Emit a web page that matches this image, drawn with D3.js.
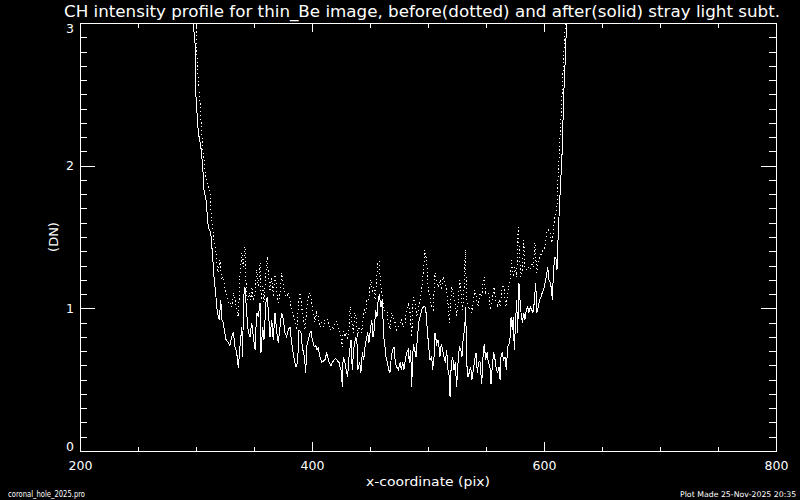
<!DOCTYPE html>
<html>
<head>
<meta charset="utf-8">
<script src="https://cdn.jsdelivr.net/npm/d3@7"></script>
<style>
  html, body { margin: 0; padding: 0; background: #000; overflow: hidden; }
  svg { display: block; }
  text { fill: #fff; font-family: "DejaVu Sans", sans-serif; }
</style>
</head>
<body>
<svg id="chart" width="800" height="500"></svg>
<script>
const titleText = 'CH intensity profile for thin_Be image, before(dotted) and after(solid) stray light subt.';
const xLabel = 'x-coordinate (pix)';
const yLabel = '(DN)';
const footLeft = 'coronal_hole_2025.pro';
const footRight = 'Plot Made 25-Nov-2025 20:35';

const xDomain = [200, 800];
const yDomain = [0, 3];
const xMajor = [200, 400, 600, 800];
const xMinor = [250, 300, 350, 450, 500, 550, 650, 700, 750];
const yMajor = [0, 1, 2, 3];
const yMinor = d3.range(1, 30).filter(i => i % 10 !== 0).map(i => i / 10);

// after stray light subtraction (solid)
const solid = [
  [294, 3.6], [297.4, 3.0], [299.1, 2.88], [300.0, 2.48], [302.0, 2.23], [304.1, 2.14],
  [305.8, 1.99], [306.9, 1.83], [308.6, 1.76], [310.6, 1.57], [312.7, 1.53], [314.4, 1.36],
  [315.5, 1.22], [316.4, 1.15], [317.2, 1.08], [318.4, 0.97], [320.1, 0.92], [321.3, 1.06],
  [322.4, 0.92], [323.5, 0.90], [324.7, 0.83], [325.9, 0.78], [327.8, 0.76], [329.3, 0.74],
  [330.8, 0.80], [332.2, 0.83], [333.6, 0.73], [335.1, 0.69], [336.5, 0.58], [337.9, 0.73],
  [339.4, 0.87], [340.3, 0.66], [340.8, 1.06], [342.2, 1.15], [343.7, 0.97], [345.1, 0.83],
  [346.6, 0.80], [348.0, 0.90], [349.4, 0.80], [350.9, 0.71], [352.3, 0.97], [353.7, 0.94],
  [355.2, 1.04], [356.0, 0.69], [357.5, 0.87], [358.6, 0.78], [360.3, 1.04], [361.5, 1.08],
  [362.7, 0.94], [363.8, 0.80], [365.3, 0.92], [366.6, 0.78], [368.1, 0.97], [369.6, 0.83],
  [371.0, 0.76], [372.4, 0.87], [373.9, 0.97], [375.3, 0.92], [376.7, 0.83], [378.2, 0.80],
  [379.5, 0.85], [381.0, 0.87], [381.9, 0.80], [383.0, 0.73], [384.7, 0.64], [386.2, 0.59],
  [387.6, 0.62], [388.8, 0.85], [390.5, 0.83], [391.6, 0.73], [393.4, 0.66], [394.6, 0.55],
  [395.4, 0.73], [396.8, 0.78], [398.3, 0.83], [399.1, 0.84], [400.3, 0.78], [402.0, 0.73],
  [403.2, 0.74], [404.3, 0.71], [405.4, 0.72], [406.9, 0.66], [408.4, 0.62], [409.7, 0.63],
  [411.2, 0.64], [412.7, 0.69], [413.5, 0.66], [414.7, 0.62], [416.4, 0.60], [417.5, 0.62],
  [419.2, 0.64], [420.4, 0.65], [422.1, 0.63], [423.3, 0.62], [424.1, 0.59], [425.6, 0.55],
  [426.0, 0.45], [426.9, 0.66], [428.4, 0.62], [429.8, 0.55], [430.7, 0.52], [431.9, 0.66],
  [433.6, 0.78], [434.7, 0.57], [435.9, 0.71], [437.7, 0.80], [438.8, 0.75], [439.4, 0.57],
  [441.1, 0.62], [442.2, 0.55], [443.4, 0.69], [444.6, 0.64], [445.7, 0.73], [446.8, 0.78],
  [448.0, 0.83], [449.1, 0.76], [450.3, 0.85], [451.5, 0.92], [452.6, 0.80], [453.7, 0.85],
  [454.9, 0.99], [456.0, 0.94], [457.2, 1.08], [458.0, 1.09], [459.5, 1.01], [460.6, 1.06],
  [461.8, 0.80], [462.9, 0.73], [463.8, 0.66], [464.9, 0.62], [466.1, 0.57], [467.2, 0.55],
  [468.4, 0.66], [469.6, 0.71], [470.7, 0.73], [471.8, 0.62], [473.0, 0.59], [474.4, 0.57],
  [475.9, 0.62], [477.0, 0.57], [478.2, 0.62], [479.3, 0.57], [480.4, 0.64], [481.6, 0.69],
  [483.0, 0.71], [483.9, 0.62], [485.1, 0.71], [485.9, 0.45], [487.3, 0.75], [488.5, 0.71],
  [489.7, 0.66], [490.7, 0.78], [492.0, 0.90], [493.1, 0.94], [494.6, 0.99], [496.0, 1.01],
  [497.4, 1.01], [498.3, 0.97], [499.4, 0.85], [500.6, 0.73], [501.7, 0.64], [503.2, 0.66],
  [504.0, 0.57], [505.2, 0.66], [506.0, 0.83], [507.5, 0.75], [508.9, 0.78], [510.3, 0.66],
  [511.4, 0.75], [512.6, 0.71], [513.8, 0.66], [514.9, 0.62], [516.1, 0.71], [517.2, 0.57],
  [518.4, 0.52], [519.0, 0.38], [520.1, 0.62], [521.3, 0.66], [522.4, 0.57], [523.5, 0.62],
  [524.7, 0.45], [525.9, 0.62], [527.0, 0.73], [528.2, 0.71], [529.3, 0.66], [530.4, 0.80],
  [531.6, 0.85], [532.5, 1.01], [533.3, 0.62], [534.5, 0.52], [535.6, 0.55], [536.8, 0.59],
  [537.9, 0.50], [539.1, 0.57], [540.3, 0.64], [541.4, 0.69], [542.5, 0.55], [543.7, 0.62],
  [544.8, 0.63], [546.3, 0.47], [547.4, 0.66], [548.5, 0.75], [549.7, 0.64], [550.9, 0.69],
  [552.0, 0.62], [553.4, 0.59], [554.3, 0.47], [555.4, 0.59], [556.6, 0.69], [557.8, 0.64],
  [558.9, 0.57], [560.1, 0.55], [561.2, 0.59], [562.1, 0.50], [562.9, 0.66], [564.0, 0.69],
  [565.2, 0.64], [566.4, 0.66], [567.5, 0.57], [568.7, 0.73], [569.8, 0.75], [570.9, 0.80],
  [571.6, 0.94], [572.7, 0.85], [573.5, 0.94], [574.4, 0.71], [575.6, 0.92], [576.4, 1.06],
  [577.3, 0.83], [578.4, 1.18], [579.3, 1.06], [580.2, 0.97], [581.3, 0.90], [582.5, 0.97],
  [583.6, 0.92], [584.7, 0.99], [585.9, 1.01], [587.0, 0.97], [588.1, 1.01], [589.3, 0.99],
  [590.5, 0.97], [591.6, 1.04], [592.8, 1.18], [593.9, 0.97], [595.1, 1.01], [596.2, 1.06],
  [597.4, 1.08], [598.5, 1.11], [599.7, 1.13], [600.9, 1.18], [602.0, 1.22], [603.2, 1.29],
  [604.3, 1.20], [605.4, 1.18], [606.6, 1.13], [607.1, 1.06], [608.4, 1.29], [609.5, 1.36],
  [610.6, 1.34], [611.2, 1.27], [612.3, 1.53], [613.2, 1.69], [614.3, 1.88], [615.2, 2.02],
  [616.0, 2.16], [616.6, 2.40], [617.5, 2.60], [618.3, 2.74], [618.9, 2.88], [619.5, 3.0],
  [621, 3.5]
];

// before stray light subtraction (dotted)
const dotted = [
  [296, 3.5], [300.0, 3.0], [300.6, 2.79], [302.0, 2.60], [303.4, 2.46], [304.3, 2.32],
  [305.4, 2.16], [306.9, 2.04], [308.6, 1.92], [310.6, 1.85], [312.1, 1.81], [312.9, 1.67],
  [314.4, 1.57], [315.5, 1.48], [317.2, 1.39], [318.4, 1.29], [319.2, 1.25], [320.7, 1.34],
  [322.2, 1.20], [323.5, 1.22], [325.0, 1.13], [326.5, 1.08], [327.8, 1.04], [329.3, 1.06],
  [330.8, 1.01], [332.2, 1.11], [333.6, 1.06], [335.1, 0.99], [336.5, 0.94], [337.9, 1.22],
  [339.4, 1.39], [340.8, 1.29], [342.2, 1.43], [343.1, 1.18], [344.2, 1.06], [345.9, 1.11],
  [347.2, 1.06], [348.3, 1.15], [349.4, 1.06], [350.9, 1.11], [352.3, 1.27], [353.7, 1.15],
  [355.2, 1.32], [356.3, 1.06], [357.5, 1.18], [358.6, 1.04], [360.3, 1.25], [361.5, 1.36],
  [362.7, 1.20], [363.8, 1.13], [365.3, 1.22], [366.6, 1.08], [368.1, 1.25], [369.6, 1.13],
  [371.0, 1.04], [372.4, 1.11], [373.9, 1.25], [375.3, 1.15], [376.7, 1.10], [378.2, 1.08],
  [379.5, 1.11], [381.0, 1.06], [382.5, 0.99], [383.9, 0.94], [385.3, 0.90], [386.8, 0.85],
  [388.2, 1.01], [389.7, 1.11], [391.1, 1.01], [392.5, 0.92], [394.0, 0.85], [395.4, 0.99],
  [396.8, 1.08], [398.3, 1.11], [399.7, 1.04], [401.1, 0.97], [402.6, 0.90], [404.0, 0.97],
  [405.4, 0.94], [406.9, 0.87], [408.4, 0.90], [409.7, 0.87], [411.2, 0.92], [412.7, 0.93],
  [414.1, 0.90], [415.5, 0.85], [417.0, 0.87], [418.4, 0.85], [419.8, 0.90], [421.3, 0.91],
  [422.7, 0.87], [424.1, 0.83], [425.6, 0.78], [426.0, 0.73], [426.9, 0.85], [428.4, 0.80],
  [429.8, 0.83], [430.7, 0.78], [431.9, 0.87], [433.0, 1.01], [434.2, 0.92], [435.5, 0.83],
  [437.1, 0.97], [438.2, 0.92], [439.4, 0.80], [440.5, 0.87], [441.6, 0.85], [442.8, 0.83],
  [444.0, 0.92], [445.1, 0.99], [446.3, 0.97], [447.4, 1.06], [448.5, 1.04], [449.7, 1.13],
  [450.9, 1.20], [452.0, 1.11], [453.2, 1.15], [454.3, 1.06], [455.4, 1.15], [456.6, 1.32],
  [457.8, 1.33], [458.9, 1.20], [460.1, 1.13], [461.5, 1.01], [462.9, 0.97], [464.4, 0.99],
  [465.8, 0.90], [467.2, 0.85], [468.7, 0.97], [470.1, 0.94], [471.6, 0.90], [473.0, 0.85],
  [474.4, 0.87], [475.9, 0.90], [477.3, 0.92], [478.7, 0.87], [480.2, 0.90], [481.6, 0.99],
  [483.0, 1.04], [484.5, 0.97], [485.9, 0.80], [487.3, 1.08], [488.8, 1.04], [490.2, 0.94],
  [491.6, 0.99], [493.1, 1.06], [494.6, 1.13], [496.0, 1.27], [497.4, 1.41], [498.9, 1.32],
  [500.3, 1.13], [501.7, 1.08], [503.2, 1.01], [504.6, 0.99], [506.0, 1.25], [507.5, 1.20],
  [508.9, 1.15], [510.3, 1.20], [511.8, 1.13], [513.2, 1.22], [514.7, 1.18], [516.1, 1.13],
  [517.5, 1.01], [518.4, 0.90], [519.6, 1.06], [520.7, 1.15], [521.8, 1.11], [523.3, 1.04],
  [524.7, 0.94], [526.1, 1.06], [527.6, 1.20], [528.7, 1.08], [529.9, 0.99], [531.0, 1.13],
  [532.1, 1.41], [533.3, 1.08], [534.5, 1.01], [535.6, 0.99], [536.8, 1.01], [537.9, 0.97],
  [539.1, 1.06], [540.5, 1.13], [542.0, 1.06], [543.3, 1.01], [544.8, 1.11], [546.3, 1.08],
  [547.7, 1.20], [548.5, 1.22], [549.7, 1.11], [550.9, 1.13], [552.6, 1.08], [553.7, 0.99],
  [554.9, 1.04], [556.3, 1.11], [557.1, 1.15], [558.4, 1.06], [560.1, 1.01], [561.2, 1.06],
  [562.3, 1.01], [563.5, 1.11], [564.6, 1.18], [565.8, 1.13], [567.0, 1.01], [568.1, 1.06],
  [569.2, 1.13], [570.7, 1.20], [572.1, 1.34], [573.5, 1.22], [575.0, 1.29], [576.4, 1.22],
  [577.8, 1.57], [579.0, 1.34], [580.2, 1.22], [581.3, 1.27], [582.5, 1.48], [583.6, 1.29],
  [585.1, 1.27], [586.4, 1.29], [587.9, 1.27], [589.3, 1.32], [590.7, 1.29], [592.2, 1.46],
  [593.7, 1.25], [595.1, 1.32], [596.6, 1.36], [598.0, 1.39], [599.4, 1.41], [600.9, 1.43],
  [602.3, 1.53], [603.7, 1.55], [605.2, 1.53], [606.6, 1.46], [607.5, 1.48], [608.6, 1.60],
  [610.1, 1.67], [611.2, 1.71], [611.4, 1.85], [612.3, 1.92], [613.2, 2.09], [614.0, 2.25],
  [615.2, 2.41], [616.0, 2.60], [616.9, 2.74], [617.5, 2.86], [618.3, 2.97], [620, 3.5]
];

const svg = d3.select('#chart');
const plotLeft = 80, plotRight = 776, plotTop = 23, plotBottom = 451;

const x = d3.scaleLinear().domain(xDomain).range([plotLeft, plotRight]);
const y = d3.scaleLinear().domain(yDomain).range([plotBottom, plotTop]);

svg.append('rect').attr('width', 800).attr('height', 500).attr('fill', '#000');

svg.append('clipPath').attr('id', 'plotclip')
  .append('rect')
  .attr('x', plotLeft).attr('y', plotTop)
  .attr('width', plotRight - plotLeft).attr('height', plotBottom - plotTop);

function styleAxis(g) {
  g.selectAll('path, line').attr('stroke', '#fff').attr('stroke-width', 1)
    .attr('shape-rendering', 'crispEdges');
  g.selectAll('text').attr('fill', '#fff')
    .style('font-family', '"DejaVu Sans", sans-serif').style('font-size', '12.5px');
}

// bottom axis
svg.append('g')
  .attr('transform', `translate(0, ${plotBottom})`)
  .call(d3.axisBottom(x).tickValues(xMajor).tickSizeInner(-9).tickSizeOuter(0).tickPadding(10))
  .call(styleAxis);
svg.append('g')
  .attr('transform', `translate(0, ${plotBottom})`)
  .call(d3.axisBottom(x).tickValues(xMinor).tickSizeInner(-4.5).tickSizeOuter(0).tickFormat(''))
  .call(styleAxis);

// top axis
svg.append('g')
  .attr('transform', `translate(0, ${plotTop})`)
  .call(d3.axisTop(x).tickValues(xMajor).tickSizeInner(-9).tickSizeOuter(0).tickFormat(''))
  .call(styleAxis);
svg.append('g')
  .attr('transform', `translate(0, ${plotTop})`)
  .call(d3.axisTop(x).tickValues(xMinor).tickSizeInner(-4.5).tickSizeOuter(0).tickFormat(''))
  .call(styleAxis);

// left axis
const yAxisG = svg.append('g')
  .attr('transform', `translate(${plotLeft}, 0)`)
  .call(d3.axisLeft(y).tickValues(yMajor).tickFormat(d3.format('d'))
    .tickSizeInner(-15).tickSizeOuter(0).tickPadding(6))
  .call(styleAxis);
yAxisG.selectAll('text').attr('y', d => d === 3 ? 5 : d === 0 ? -4.5 : 0);
svg.append('g')
  .attr('transform', `translate(${plotLeft}, 0)`)
  .call(d3.axisLeft(y).tickValues(yMinor).tickSizeInner(-7).tickSizeOuter(0).tickFormat(''))
  .call(styleAxis);

// right axis
svg.append('g')
  .attr('transform', `translate(${plotRight}, 0)`)
  .call(d3.axisRight(y).tickValues(yMajor).tickSizeInner(-15).tickSizeOuter(0).tickFormat(''))
  .call(styleAxis);
svg.append('g')
  .attr('transform', `translate(${plotRight}, 0)`)
  .call(d3.axisRight(y).tickValues(yMinor).tickSizeInner(-7).tickSizeOuter(0).tickFormat(''))
  .call(styleAxis);

// profiles
const line = d3.line().x(d => x(d[0])).y(d => y(d[1]));
const plot = svg.append('g').attr('clip-path', 'url(#plotclip)');

plot.append('path')
  .datum(dotted)
  .attr('d', line)
  .attr('fill', 'none')
  .attr('stroke', '#fff')
  .attr('stroke-width', 1)
  .attr('stroke-dasharray', '1.2,2.6')
  .attr('shape-rendering', 'crispEdges');

plot.append('path')
  .datum(solid)
  .attr('d', line)
  .attr('fill', 'none')
  .attr('stroke', '#fff')
  .attr('stroke-width', 1)
  .attr('shape-rendering', 'crispEdges');

// texts
svg.append('text')
  .attr('x', 64).attr('y', 16.5)
  .attr('textLength', 716).attr('lengthAdjust', 'spacingAndGlyphs')
  .style('font-size', '15.5px')
  .text(titleText);

svg.append('text')
  .attr('x', (plotLeft + plotRight) / 2).attr('y', 486)
  .attr('text-anchor', 'middle')
  .attr('textLength', 124).attr('lengthAdjust', 'spacingAndGlyphs')
  .style('font-size', '13px')
  .text(xLabel);

svg.append('text')
  .attr('transform', `translate(58, ${(plotTop + plotBottom) / 2}) rotate(-90)`)
  .attr('text-anchor', 'middle')
  .style('font-size', '13px')
  .text(yLabel);

svg.append('text')
  .attr('x', 8).attr('y', 497)
  .attr('textLength', 77).attr('lengthAdjust', 'spacingAndGlyphs')
  .style('font-size', '8px')
  .text(footLeft);

svg.append('text')
  .attr('x', 680).attr('y', 497)
  .style('font-size', '7.8px')
  .text(footRight);
</script>
</body>
</html>
